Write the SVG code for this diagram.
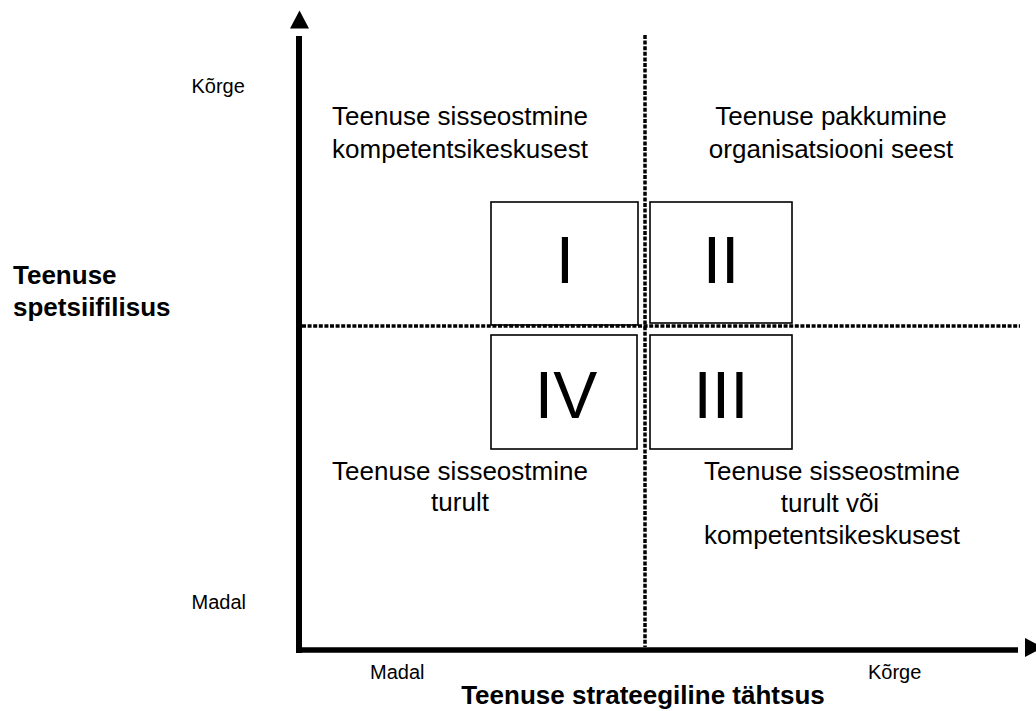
<svg xmlns="http://www.w3.org/2000/svg" width="1036" height="711" viewBox="0 0 1036 711">
<style>
.t{font-family:"Liberation Sans",Arial,sans-serif;fill:#000}
.q{font-size:26px;text-anchor:middle}
.s{font-size:20px}
.b{font-size:26px;font-weight:bold}
.r{font-size:66px;text-anchor:middle}
.box{fill:#fff;stroke:#000;stroke-width:1.6}
.dot{stroke:#000;stroke-width:3.5;stroke-dasharray:4 1.6;fill:none}
.ax{stroke:#000;stroke-width:6;fill:none}
</style>
<rect width="1036" height="711" fill="#fff"/>
<g id="node-I"><rect class="box" x="491" y="202" width="147" height="123"/><text class="t r" x="565" y="283">I</text></g>
<g id="node-II"><rect class="box" x="650" y="202" width="142" height="121"/><text class="t r" x="721" y="283">II</text></g>
<g id="node-IV"><rect class="box" x="491" y="335" width="146" height="114"/><text class="t r" x="566" y="418">IV</text></g>
<g id="node-III"><rect class="box" x="650" y="335" width="142" height="114"/><text class="t r" x="721" y="418">III</text></g>
<g id="connectors">
<line class="dot" x1="302" y1="326" x2="1020" y2="326"/>
<line class="dot" x1="645" y1="35" x2="645" y2="647"/>
<line class="ax" x1="299" y1="36" x2="299" y2="653"/>
<line x1="296" y1="650" x2="1018" y2="650" stroke="#000" stroke-width="5.5"/>
<polygon points="299.5,10.5 290,28.5 309,28.5" fill="#000"/>
<polygon points="1025,638 1025,657 1043,647.5" fill="#000"/>
</g>
<g id="labels">
<text class="t s" x="191.5" y="93">Kõrge</text>
<text class="t s" x="191.5" y="609">Madal</text>
<text class="t s" x="370" y="679">Madal</text>
<text class="t s" x="868" y="679">Kõrge</text>
<text class="t b" x="13" y="284">Teenuse</text>
<text class="t b" x="13" y="316">spetsiifilisus</text>
<text class="t b" x="643" y="704" text-anchor="middle">Teenuse strateegiline tähtsus</text>
</g>
<g id="quadrant-texts">
<text class="t q" x="460" y="125">Teenuse sisseostmine</text>
<text class="t q" x="460" y="158">kompetentsikeskusest</text>
<text class="t q" x="831" y="125">Teenuse pakkumine</text>
<text class="t q" x="831" y="158">organisatsiooni seest</text>
<text class="t q" x="460" y="480">Teenuse sisseostmine</text>
<text class="t q" x="460" y="511">turult</text>
<text class="t q" x="832" y="480">Teenuse sisseostmine</text>
<text class="t q" x="830" y="512">turult või</text>
<text class="t q" x="832" y="544">kompetentsikeskusest</text>
</g>
</svg>
